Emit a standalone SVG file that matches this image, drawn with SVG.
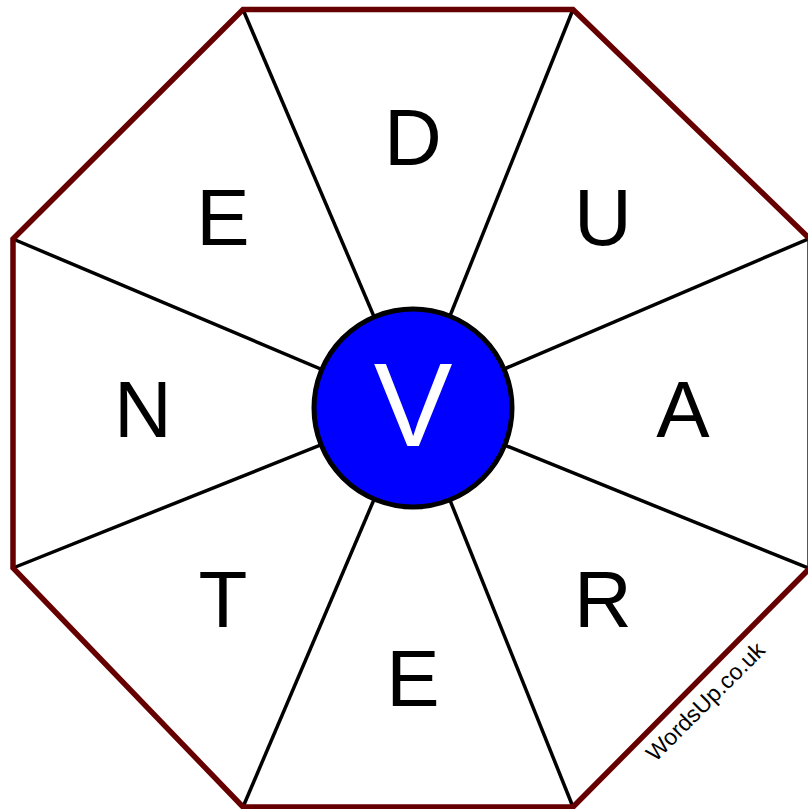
<svg xmlns="http://www.w3.org/2000/svg" width="808" height="809" viewBox="0 0 808 809">
<style>
.spoke{stroke:#000;stroke-width:3.5;fill:none}
.oct{stroke:#660000;stroke-width:5.5;fill:none;stroke-linejoin:miter}
.lt{font-family:"Liberation Sans",Arial,sans-serif;font-size:80px;fill:#000;text-anchor:middle}
.ctr{font-family:"Liberation Sans",Arial,sans-serif;font-size:118px;fill:#fff;text-anchor:middle}
.wm{font-family:"Liberation Sans",Arial,sans-serif;font-size:23px;fill:#000;text-anchor:middle}
</style>
<rect width="808" height="809" fill="#fff"/>
<g id="connectors">
<line class="spoke" x1="243" y1="9.5" x2="413" y2="408"/>
<line class="spoke" x1="573" y1="9.5" x2="413" y2="408"/>
<line class="spoke" x1="808" y1="239" x2="413" y2="408"/>
<line class="spoke" x1="808" y1="568" x2="413" y2="408"/>
<line class="spoke" x1="573" y1="807" x2="413" y2="408"/>
<line class="spoke" x1="243" y1="807" x2="413" y2="408"/>
<line class="spoke" x1="13" y1="568" x2="413" y2="408"/>
<line class="spoke" x1="13" y1="239" x2="413" y2="408"/>
</g>
<polygon id="octagon" class="oct" points="243,9.5 573,9.5 810,239 810,568 573,807 243,807 13,568 13,239"/>
<g id="n-d"><text class="lt" x="413" y="165">D</text></g>
<g id="n-u"><text class="lt" x="603" y="245">U</text></g>
<g id="n-a"><text class="lt" x="683" y="437">A</text></g>
<g id="n-r"><text class="lt" x="603" y="627">R</text></g>
<g id="n-e1"><text class="lt" x="413" y="706">E</text></g>
<g id="n-t"><text class="lt" x="223" y="627">T</text></g>
<g id="n-n"><text class="lt" x="143" y="437">N</text></g>
<g id="n-e2"><text class="lt" x="223" y="245">E</text></g>
<g id="center">
<circle cx="413" cy="408" r="99" fill="#0000ff" stroke="#000" stroke-width="5"/>
<text class="ctr" x="413" y="446">V</text>
</g>
<text class="wm" transform="translate(711,707) rotate(-45)" x="0" y="0">WordsUp.co.uk</text>
</svg>
